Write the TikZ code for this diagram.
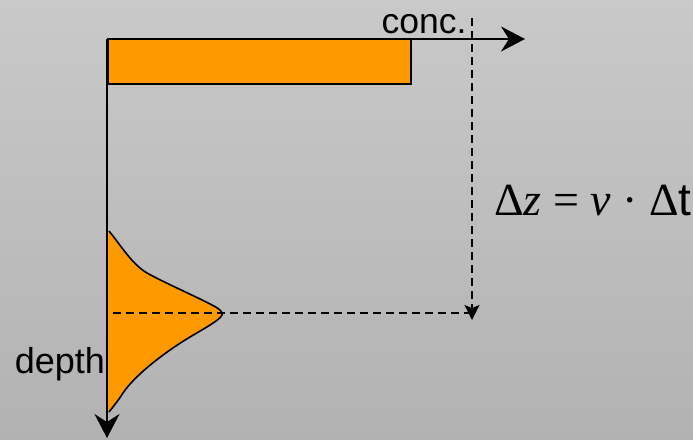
\documentclass[tikz,border=0pt]{standalone}
\usepackage{fontspec}
\setmainfont{Liberation Sans}
\newfontfamily\lserif{Liberation Serif}
\usetikzlibrary{arrows.meta}
\definecolor{bgtop}{RGB}{201,201,201}
\definecolor{bgbot}{RGB}{178,178,178}
\definecolor{orangefill}{RGB}{255,153,0}
\tikzset{
  axis/.style={line width=2pt, -{Stealth[length=24pt,width=25pt,inset=8pt]}},
  dashline/.style={line width=1.5pt, dash pattern=on 8pt off 5pt},
  dasharrow/.style={dashline, -{Stealth[length=15pt,width=15pt,inset=3pt]}},
  box/.style={fill=orangefill, draw=black, line width=1.6pt},
  lbl/.style={inner sep=0pt, font=\fontsize{35.5}{40}\selectfont}
}
\begin{document}
\begin{tikzpicture}[x=1pt,y=-1pt]
\useasboundingbox (0,0) rectangle (693,439);
\shade[top color=bgtop, bottom color=bgbot] (0,0) rectangle (693,439);
% coordinates
\coordinate (O) at (107,39);
\coordinate (xend) at (525,39);
\coordinate (yend) at (107,438);
\coordinate (vtop) at (472,18);
\coordinate (vbot) at (472,320);
\coordinate (hleft) at (113,313);
\coordinate (hright) at (472,313);
% concentration bar
\draw[box] (108,39) rectangle (411,84);
% gaussian
\fill[orangefill] (108,231) -- (109,231) .. controls (122,247) and (132,264) .. (147,273)
  .. controls (165,283) and (195,296) .. (212,305)
  .. controls (220,309) and (223,312) .. (222,315)
  .. controls (220,320) and (205,328) .. (190,337)
  .. controls (165,352) and (135,375) .. (123,393)
  .. controls (118,401) and (112,408) .. (109,412) -- (108,412) -- cycle;
\draw[line width=1.6pt] (109,231) .. controls (122,247) and (132,264) .. (147,273)
  .. controls (165,283) and (195,296) .. (212,305)
  .. controls (220,309) and (223,312) .. (222,315)
  .. controls (220,320) and (205,328) .. (190,337)
  .. controls (165,352) and (135,375) .. (123,393)
  .. controls (118,401) and (112,408) .. (109,412);
% dashed lines
\draw[dashline] (hleft) -- (hright);
\draw[dasharrow] (vtop) -- (vbot);
% axes
\draw[axis] (O) -- (xend);
\draw[axis] (O) -- (yend);
% labels
\node[lbl, anchor=base west] (conc) at (381.5,33) {conc.};
\node[lbl, anchor=base west, font=\fontsize{36}{40}\selectfont] (depth) at (14.6,373) {depth};
\node[inner sep=0pt, anchor=base west, font=\fontsize{46}{50}\selectfont] (formula) at (494,215)
  {\lserif Δ\textit{z} = \textit{v} · Δ\sffamily\fontspec{Liberation Sans}t};
\end{tikzpicture}
\end{document}
